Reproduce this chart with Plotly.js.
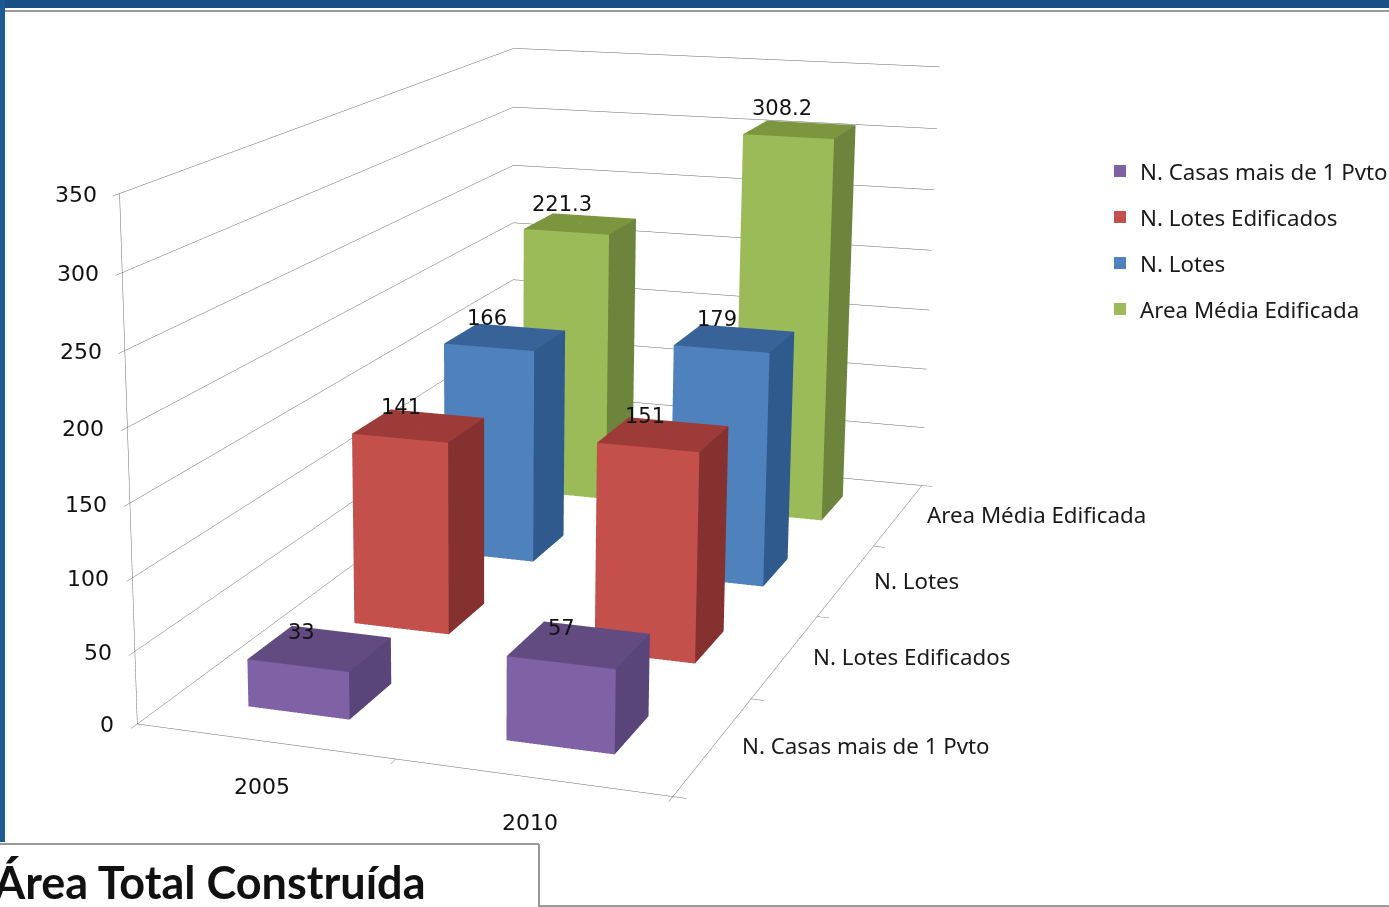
<!DOCTYPE html>
<html><head><meta charset="utf-8">
<script src="https://cdn.plot.ly/plotly-3.0.1.min.js"></script>
<style>html,body{margin:0;padding:0;overflow:clip;background:#fff;width:1389px;height:907px}#w{position:absolute;left:0;top:0;width:1389px;height:907px;overflow:clip}#c{position:absolute;left:-581px;top:-744px}</style>
</head><body><div id="w"><div id="c"></div></div>
<script>
var categories=['2005','2010'];
var seriesNames=['N. Casas mais de 1 Pvto','N. Lotes Edificados','N. Lotes','Area Média Edificada'];
var casas=[33,57], edificados=[141,151], lotes=[166,179], areaMedia=[221.3,308.2];
var zTicks=[0,50,100,150,200,250,300,350];
var frontColors=['#7f62a6','#c4504c','#4f81bd','#9bbb59'];
var sideColors=['#59457a','#853130','#2f5a8e','#6d843c'];
var topColors=['#614b80','#9c3b38','#386398','#7c9640'];
var seriesValues=[casas,edificados,lotes,areaMedia];

var Wd=2000,Hd=2416,left=-581,top_=-744;
function X(p){return (p-left)/Wd;} function Y(p){return 1-(p-top_)/Hd;}

var traces=[];
var bw=.2,bd=.2;
seriesValues.forEach(function(vals,si){vals.forEach(function(val,ci){
 var x0=ci+.5-bw,x1=ci+.5+bw,y0=si+.5-bd,y1=si+.5+bd;
 traces.push({type:'mesh3d',x:[x0,x1,x1,x0,x0,x1,x1,x0],y:[y0,y0,y1,y1,y0,y0,y1,y1],z:[0,0,0,0,val,val,val,val],
  i:[0,0,1,1,4,4],j:[1,5,2,6,5,6],k:[5,4,6,5,6,7],
  facecolor:[frontColors[si],frontColors[si],sideColors[si],sideColors[si],topColors[si],topColors[si]],
  flatshading:true,lighting:{ambient:1,diffuse:0,specular:0,roughness:1,fresnel:0},hoverinfo:'skip',showlegend:false,showscale:false});
});});
seriesValues.forEach(function(vals,si){
 traces.push({type:'scatter3d',mode:'markers',name:seriesNames[si],legendgroup:'g'+si,x:[.5,1.5],y:[si+.5,si+.5],z:vals,marker:{size:.5,symbol:'square',color:frontColors[si]},hoverinfo:'skip'});
});
var digitFont={family:'DejaVu Sans',size:22,color:'#111'};
var valueFont={family:'DejaVu Sans',size:21,color:'#111'};
var textFont={family:'Noto Sans',size:22.3,color:'#1a1a1a'};
var ann=[];
zTicks.forEach(function(t){ann.push({x:0,y:0,z:t,text:String(t),showarrow:false,xanchor:'right',yanchor:'middle',xshift:-21,yshift:-1,font:digitFont});});
categories.forEach(function(c,i){ann.push({x:i+.5,y:0,z:0,text:c,showarrow:false,xanchor:'center',yanchor:'middle',yshift:-45,xshift:-2,font:digitFont});});
seriesNames.forEach(function(n,i){ann.push({x:2,y:i+.5,z:0,text:n,showarrow:false,xanchor:'left',yanchor:'middle',xshift:26,font:textFont});});
seriesValues.forEach(function(vals,si){vals.forEach(function(val,ci){ann.push({x:ci+.5,y:si+.5,z:val,text:String(val),showarrow:false,xanchor:'center',yanchor:'middle',xshift:-18,yshift:15.5+val*.02,font:valueFont});});});
function ax(range,tv,extra){return Object.assign({range:range,autorange:false,tickmode:'array',tickvals:tv,showticklabels:false,showgrid:false,zeroline:false,showline:true,linecolor:'#666',linewidth:1,ticks:'outside',ticklen:10,tickwidth:1,tickcolor:'#666',showbackground:false,showspikes:false,title:{text:''}},extra||{});}
var layout={width:Wd,height:Hd,margin:{l:0,r:0,t:0,b:0,pad:0},autosize:false,paper_bgcolor:'#fff',
 scene:{domain:{x:[0,1],y:[0,1]},dragmode:'orbit',aspectmode:'manual',aspectratio:{x:1.0364,y:2.1079,z:1},
  camera:{projection:{type:'perspective'},eye:{x:1.8249,y:-5.6273,z:1.4102},center:{x:-0.2935,y:-0.1746,z:-0.2044},up:{x:-0.0908,y:0.2501,z:0.9639}},
  xaxis:ax([0,2],[0,1,2]),yaxis:ax([0,4],[0,1,2,3,4]),zaxis:ax([0,350],zTicks,{showgrid:true,gridcolor:'#666',gridwidth:1}),annotations:ann},
 legend:{x:X(1100),y:Y(150),xanchor:'left',yanchor:'top',font:{family:'Noto Sans',size:22.3,color:'#1a1a1a'},tracegroupgap:14,itemsizing:'constant',bgcolor:'rgba(0,0,0,0)'},
 showlegend:true,
 shapes:[
  {type:'rect',xref:'paper',yref:'paper',x0:X(0),x1:X(1389),y0:Y(0),y1:Y(8),fillcolor:'#1a4f86',line:{width:0}},
  {type:'rect',xref:'paper',yref:'paper',x0:X(0),x1:X(5),y0:Y(0),y1:Y(842),fillcolor:'#1b5a93',line:{width:0}},
  {type:'line',xref:'paper',yref:'paper',x0:X(5),x1:X(1389),y0:Y(11),y1:Y(11),line:{color:'#9a9a9a',width:2}},
  {type:'line',xref:'paper',yref:'paper',x0:X(0),x1:X(539),y0:Y(844),y1:Y(844),line:{color:'#9a9a9a',width:2}},
  {type:'line',xref:'paper',yref:'paper',x0:X(539),x1:X(539),y0:Y(844),y1:Y(907),line:{color:'#9a9a9a',width:2}},
  {type:'line',xref:'paper',yref:'paper',x0:X(539),x1:X(1389),y0:Y(906),y1:Y(906),line:{color:'#9a9a9a',width:2}}
 ],
 annotations:[{xref:'paper',yref:'paper',x:X(-9),y:Y(882),xanchor:'left',yanchor:'middle',showarrow:false,text:'Área Total Construída',font:{family:'Lato',size:45,color:'#111',weight:700}}]
};
Plotly.newPlot('c',traces,layout,{displayModeBar:false});
</script></body></html>
